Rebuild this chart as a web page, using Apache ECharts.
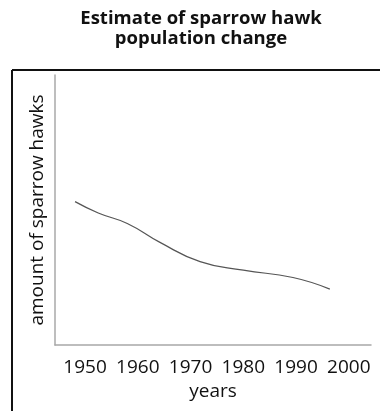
<!DOCTYPE html>
<html>
<head>
<meta charset="utf-8">
<script src="https://cdn.jsdelivr.net/npm/echarts@6/dist/echarts.min.js"></script>
<style>
  html, body { margin: 0; padding: 0; background: #fff; }
  #chart { width: 380px; height: 411px; }
</style>
</head>
<body>
<div id="chart"></div>
<script>
// years and a relative population amount (0-100 scale)
var years = [1948.1, 1952.5, 1958.0, 1964.2, 1971.8, 1980.0, 1989.4, 1996.4];
var amounts = [53.1, 48.9, 45.0, 38.0, 30.9, 27.7, 25.0, 20.7];
var tickYears = [1950, 1960, 1970, 1980, 1990, 2000];

var chart = echarts.init(document.getElementById('chart'));

var points = years.map(function (y, i) { return [y, amounts[i]]; });

var option = {
    animation: false,
    title: {
        text: 'Estimate of sparrow hawk\npopulation change',
        left: 196,
        top: 4,
        textAlign: 'center',
        textStyle: {
            fontFamily: 'Open Sans',
            fontWeight: 'bold',
            fontSize: 18.5,
            lineHeight: 20,
            color: '#111'
        }
    },
    // the outer frame (top and left edges only)
    graphic: [
        { type: 'line', shape: { x1: 12, y1: 70, x2: 380, y2: 70 }, style: { stroke: '#111', lineWidth: 2 } },
        { type: 'line', shape: { x1: 12, y1: 70, x2: 12, y2: 411 }, style: { stroke: '#111', lineWidth: 2 } }
    ],
    grid: { left: 55, right: 9, top: 75, bottom: 66 },
    xAxis: {
        type: 'value',
        min: 1944.3,
        max: 2004.2,
        name: 'years',
        nameLocation: 'middle',
        nameGap: 36,
        nameTextStyle: { fontFamily: 'Open Sans', fontSize: 19, color: '#111' },
        axisLine: { lineStyle: { color: '#a8a8a8', width: 1.5 } },
        axisTick: { show: false },
        splitLine: { show: false },
        axisLabel: {
            customValues: tickYears,
            margin: 13,
            fontFamily: 'Open Sans',
            fontSize: 19,
            color: '#111',
            formatter: function (v) { return String(v); }
        }
    },
    yAxis: {
        type: 'value',
        min: 0,
        max: 100,
        name: 'amount of sparrow hawks',
        nameLocation: 'middle',
        nameGap: 8,
        nameTextStyle: { fontFamily: 'Open Sans', fontSize: 19, color: '#111' },
        axisLine: { show: true, lineStyle: { color: '#a8a8a8', width: 1.5 } },
        axisTick: { show: false },
        axisLabel: { show: false },
        splitLine: { show: false }
    },
    series: [
        {
            type: 'line',
            data: points,
            smooth: true,
            showSymbol: false,
            lineStyle: { color: '#555', width: 1.2 }
        }
    ]
};

chart.setOption(option);
</script>
</body>
</html>
